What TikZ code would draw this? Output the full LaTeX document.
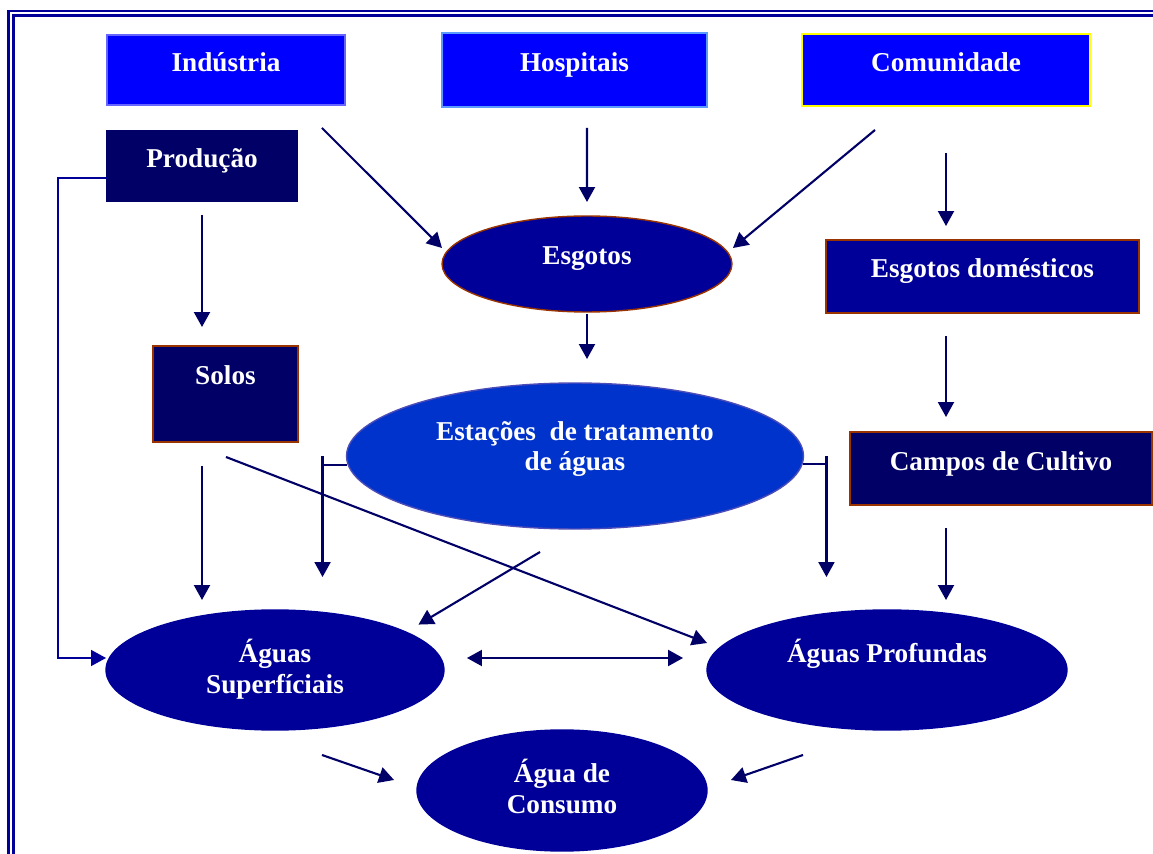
\documentclass[tikz,border=0pt]{standalone}
\usepackage{fontspec}
\setmainfont{Liberation Serif}
\usetikzlibrary{arrows.meta,shapes.geometric,calc}

\definecolor{topblue}{HTML}{0000FF}
\definecolor{navy}{HTML}{000066}
\definecolor{deepblue}{HTML}{000099}
\definecolor{plantblue}{HTML}{0033CC}
\definecolor{rust}{HTML}{993300}
\definecolor{edgelilac}{HTML}{6666FF}
\definecolor{edgesky}{HTML}{5B9BFF}
\definecolor{edgeyellow}{HTML}{FFFF00}
\definecolor{frameblue}{HTML}{000099}
\definecolor{arrownavy}{HTML}{000066}

\begin{document}
\begin{tikzpicture}[x=0.02cm, y=-0.02cm]

    % --- Styles ---
    \tikzset{
        % Basis-Stil
        component/.style={
            draw,
            line width=0.8pt,
            inner sep=0pt,
            outer sep=0pt
        },
        source/.style={
            component,
            rectangle,
            fill=topblue,
            draw=#1
        },
        stage/.style={
            component,
            rectangle,
            fill=navy,
            draw=rust
        },
        pool/.style={
            component,
            ellipse,
            fill=deepblue,
            draw=deepblue
        },
        % Beschriftungen
        labeltext/.style={
            text=white,
            font=\bfseries\fontsize{15.5}{17.6}\selectfont,
            align=center,
            anchor=center,
            inner sep=0pt
        },
        % Pfeile
        flow/.style={
            draw=arrownavy,
            line width=1.2pt,
            -{Triangle[length=0.3cm, width=0.32cm]}
        },
        link/.style={
            draw=arrownavy,
            line width=1.2pt
        },
        frameline/.style={
            draw=frameblue,
            line width=1.3pt
        }
    }

    \useasboundingbox (0,0) rectangle (1153,854);

    % --- Rahmen ---
    \draw[frameline] (8.5,854) -- (8.5,11) -- (1153,11);
    \draw[frameline] (13.5,854) -- (13.5,15.5) -- (1153,15.5);

    % --- 1. Quellen ---
    \node[source=edgelilac, minimum width=4.76cm, minimum height=1.40cm,
        label={[labeltext, yshift=0.16cm]center:Indústria}] (ind) at (226,70) {};
    \node[source=edgesky, line width=1.1pt, minimum width=5.30cm, minimum height=1.48cm,
        label={[labeltext, yshift=0.10cm]center:Hospitais}] (hosp) at (574.5,70) {};
    \node[source=edgeyellow, minimum width=5.76cm, minimum height=1.44cm,
        label={[labeltext, yshift=0.16cm]center:Comunidade}] (com) at (946,70) {};

    % --- 2. Zwischenstufen ---
    \node[stage, draw=navy, minimum width=3.80cm, minimum height=1.40cm,
        label={[labeltext, yshift=0.10cm]center:Produção}] (prod) at (202,166) {};
    \node[pool, draw=rust, minimum width=5.80cm, minimum height=1.92cm,
        label={[labeltext, yshift=0.10cm]center:Esgotos}] (esg) at (587,264) {};
    \node[stage, fill=deepblue, minimum width=6.26cm, minimum height=1.46cm,
        label={[labeltext, yshift=0.11cm]center:Esgotos domésticos}] (dom) at (982.5,276.5) {};
    \node[stage, minimum width=2.90cm, minimum height=1.92cm,
        label={[labeltext, yshift=0.38cm]center:Solos}] (solos) at (225.5,394) {};
    \node[pool, fill=plantblue, draw=deepblue!70, minimum width=9.14cm, minimum height=2.92cm,
        label={[labeltext, yshift=0.14cm]center:Estações\ \ de tratamento\\de águas}] (eta) at (575,456) {};
    \node[stage, minimum width=6.04cm, minimum height=1.46cm,
        label={[labeltext, yshift=0.09cm]center:Campos de Cultivo}] (campos) at (1001,468.5) {};

    % --- 3. Gewässer ---
    \node[pool, minimum width=6.76cm, minimum height=2.40cm,
        label={[labeltext, yshift=0.02cm]center:Águas\\Superfíciais}] (sup) at (275,670) {};
    \node[pool, minimum width=7.20cm, minimum height=2.40cm,
        label={[labeltext, yshift=0.32cm]center:Águas Profundas}] (prof) at (887,670) {};
    \node[pool, minimum width=5.80cm, minimum height=2.42cm,
        label={[labeltext, yshift=0.08cm]center:Água de\\Consumo}] (cons) at (562,790.5) {};

    % --- 4. Flüsse (Pfeile) ---
    \draw[flow] ($(ind.south east)+(-23,23)$) -- ($(esg.west)+(0,-16)$);
    \draw[flow] ($(hosp.south)+(12.5,21)$) -- ($(esg.north)+(0,-14)$);
    \draw[flow] ($(com.south)+(-71,24)$) -- ($(esg.east)+(1,-16)$);
    \draw[flow] ($(com.south)+(0,47)$) -- ($(com.south |- dom.north)+(0,-14)$);
    \draw[flow] ($(prod.south)+(0,14)$) -- ($(prod.south |- solos.north)+(0,-19)$);

    % Produktion direkt zu den Oberflächengewässern
    \draw[flow, line width=0.8pt, draw=frameblue] ($(prod.west)+(0,12)$) -| ($(sup.west)+(-48,-12)$)
        -- ($(sup.west)+(0,-12)$);

    \draw[flow] ($(esg.south)+(0,2)$) -- ($(esg.south |- eta.north)+(0,-24)$);
    \draw[flow] ($(com.south |- dom.south)+(0,23)$) -- ($(com.south |- campos.north)+(0,-15)$);
    \draw[flow] ($(prod.south |- solos.south)+(0,24)$) -- ($(prod.south |- sup.north)+(0,-10)$);
    \draw[flow] ($(solos.south)+(0.5,15)$) -- ($(prof.west)+(0,-27)$);

    % Kläranlage zu beiden Gewässern
    \draw[link] ($(eta.west)+(0,9)$) -- ($(eta.west)+(-24,9)$);
    \draw[flow] ($(eta.west)+(-24,0)$) -- ($(eta.west |- sup.north)+(-24,-33)$);
    \draw[link] ($(eta.east)+(0,8)$) -- ($(eta.east)+(23,8)$);
    \draw[flow] ($(eta.east)+(23,0)$) -- ($(eta.east |- prof.north)+(23,-33)$);
    \draw[flow] ($(eta.south)+(-35,23)$) -- ($(sup.north east)+(24,-3)$);

    \draw[flow] ($(com.south |- campos.south)+(0,23)$) -- ($(com.south |- prof.north)+(0,-10)$);
    \draw[flow, {Triangle[length=0.3cm, width=0.32cm]}-{Triangle[length=0.3cm, width=0.32cm]}]
        ($(sup.east)+(23,-12)$) -- ($(prof.west)+(-24,-12)$);

    % Zum Trinkwasser
    \draw[flow] ($(sup.south)+(47,25)$) -- ($(cons.west)+(-23,-10.5)$);
    \draw[flow] ($(prof.south)+(-84,25)$) -- ($(cons.east)+(24,-10.5)$);

\end{tikzpicture}
\end{document}
